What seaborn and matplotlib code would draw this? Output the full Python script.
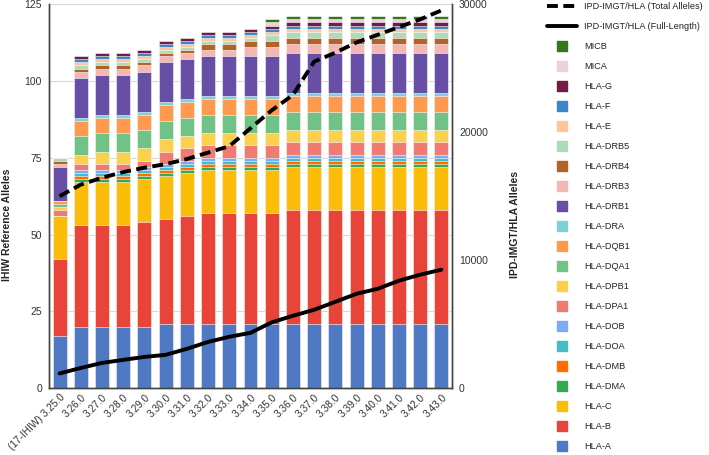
import numpy as np
import pandas as pd
import matplotlib
matplotlib.use("Agg")
import matplotlib.pyplot as plt
import seaborn as sns
from matplotlib.lines import Line2D

# Releases (x categories)
releases = ["(17-IHIW) 3.25.0", "3.26.0", "3.27.0", "3.28.0", "3.29.0", "3.30.0",
            "3.31.0", "3.32.0", "3.33.0", "3.34.0", "3.35.0", "3.36.0", "3.37.0",
            "3.38.0", "3.39.0", "3.40.0", "3.41.0", "3.42.0", "3.43.0"]

# IHIW reference alleles per locus (left axis), bottom of the stack first
hla_a = [17, 20, 20, 20, 20, 21, 21, 21, 21, 21, 21, 21, 21, 21, 21, 21, 21, 21, 21]
hla_b = [25, 33, 33, 33, 34, 34, 35, 36, 36, 36, 36, 37, 37, 37, 37, 37, 37, 37, 37]
hla_c = [14] * 19
hla_dma = [0] + [1] * 18
hla_dmb = [0] + [1] * 18
hla_doa = [0] + [1] * 18
hla_dob = [0] + [1] * 18
hla_dpa1 = [2, 2, 2, 2, 2, 4, 4, 4, 4, 4, 4, 4, 4, 4, 4, 4, 4, 4, 4]
hla_dpb1 = [1, 3, 4, 4, 4, 4, 4, 4, 4, 4, 4, 4, 4, 4, 4, 4, 4, 4, 4]
hla_dqa1 = [1] + [6] * 18
hla_dqb1 = [1] + [5] * 18
hla_dra = [0] + [1] * 18
hla_drb1 = [11] + [13] * 18
hla_drb3 = [1, 2, 2, 2, 2, 2, 2, 2, 2, 3, 3, 3, 3, 3, 3, 3, 3, 3, 3]
hla_drb4 = [1, 1, 1, 1, 1, 1, 1, 2, 2, 2, 2, 2, 2, 2, 2, 2, 2, 2, 2]
hla_drb5 = [1, 1, 1, 1, 1, 1, 1, 1, 1, 1, 2, 2, 2, 2, 2, 2, 2, 2, 2]
hla_e = [0] + [1] * 18
hla_f = [0] + [1] * 18
hla_g = [0] + [1] * 18
mica = [0] * 10 + [1] * 9
micb = [0] * 10 + [1] * 9

# IPD-IMGT/HLA allele counts (right axis)
total_alleles = [15000, 15900, 16440, 16880, 17220, 17500, 17900, 18400, 18900, 20300,
                 21700, 22900, 25500, 26200, 27000, 27600, 28200, 28800, 29500]
full_length = [1160, 1590, 1980, 2220, 2450, 2610, 3080, 3620, 4020, 4330,
               5150, 5660, 6130, 6750, 7380, 7770, 8400, 8870, 9260]

loci = ["HLA-A", "HLA-B", "HLA-C", "HLA-DMA", "HLA-DMB", "HLA-DOA", "HLA-DOB",
        "HLA-DPA1", "HLA-DPB1", "HLA-DQA1", "HLA-DQB1", "HLA-DRA", "HLA-DRB1",
        "HLA-DRB3", "HLA-DRB4", "HLA-DRB5", "HLA-E", "HLA-F", "HLA-G", "MICA", "MICB"]
counts = [hla_a, hla_b, hla_c, hla_dma, hla_dmb, hla_doa, hla_dob, hla_dpa1, hla_dpb1,
          hla_dqa1, hla_dqb1, hla_dra, hla_drb1, hla_drb3, hla_drb4, hla_drb5,
          hla_e, hla_f, hla_g, mica, micb]
colores = ["#5079C4", "#E9443A", "#FBBC0A", "#34A853", "#FF6D01", "#46BDC6", "#7BAAF7",
           "#F07B72", "#FCD04F", "#71C287", "#FF994D", "#7ED1D7", "#674EA7",
           "#F4B7B3", "#B4612A", "#AEDCBA", "#FFC69B", "#3D85C6", "#741B47",
           "#EAD1DC", "#38761D"]

df = pd.DataFrame(dict(zip(loci, counts)), index=releases)
acumulado = df.cumsum(axis=1)

sns.set_theme(style="white")
plt.rcParams["font.family"] = ["Liberation Sans", "DejaVu Sans"]

fig = plt.figure(figsize=(7.09, 4.55), dpi=100)
ax = fig.add_axes([49 / 709, 1 - 388.3 / 455, 403 / 709, 384.3 / 455])

# Stacked bars: draw cumulative totals from the top locus down
for locus, color in reversed(list(zip(loci, colores))):
    sns.barplot(x=releases, y=acumulado[locus].values, color=color, saturation=1,
                width=0.66, edgecolor="white", linewidth=0.4, ax=ax, zorder=2)

ax.set_ylim(0, 125)
ax.set_yticks(range(0, 126, 25))
ax.set_axisbelow(True)
ax.yaxis.grid(True, color="#d9d9d9", linewidth=0.8)
ax.set_xticks(range(len(releases)))
ax.set_xticklabels(releases, rotation=45, ha="right", rotation_mode="anchor")
ax.tick_params(axis="y", length=0, labelsize=7.5, colors="#333333", pad=5)
ax.tick_params(axis="x", length=0, labelsize=7.3, colors="#333333", pad=3)
ax.set_ylabel("IHIW Reference Alleles", fontsize=7.5, fontweight="bold", color="#222222")
ax.yaxis.set_label_coords(-0.092, 0.425)
ax.set_xlabel("")

# Lines on the right axis
ax2 = ax.twinx()
pos = np.arange(len(releases))
sns.lineplot(x=pos, y=total_alleles, ax=ax2, color="black", linewidth=2.8,
             linestyle=(0, (2.8, 1.4)))
sns.lineplot(x=pos, y=full_length, ax=ax2, color="black", linewidth=2.8)
ax2.set_ylim(0, 30000)
ax2.set_yticks([0, 10000, 20000, 30000])
ax2.tick_params(axis="y", length=0, labelsize=7.5, colors="#333333", pad=5)
ax2.set_ylabel("IPD-IMGT/HLA Alleles", fontsize=7.5, fontweight="bold", color="#222222")
ax2.yaxis.set_label_coords(1.144, 0.425)
ax.set_xlim(-0.5, len(releases) - 0.5)

for a in (ax, ax2):
    a.spines["top"].set_visible(False)
    for s in ("left", "right", "bottom"):
        a.spines[s].set_color("#444444")
        a.spines[s].set_linewidth(1)

# Legend
handles = [Line2D([], [], color="black", linewidth=2.8, linestyle=(0, (2.8, 1.4))),
           Line2D([], [], color="black", linewidth=2.8)]
handles += [Line2D([], [], marker="s", linestyle="none", markersize=7,
                   markerfacecolor=c, markeredgecolor=c) for c in reversed(colores)]
etiquetas = ["IPD-IMGT/HLA (Total Alleles)", "IPD-IMGT/HLA (Full-Length)"] + list(reversed(loci))
fig.legend(handles, etiquetas, loc="upper left", bbox_to_anchor=(547 / 709, 1 - 2 / 455),
           frameon=False, fontsize=6.6, handlelength=3.3, handletextpad=0.75,
           labelspacing=1.2, borderpad=0, borderaxespad=0, labelcolor="#222222")

fig.savefig("out.png", dpi=100)
